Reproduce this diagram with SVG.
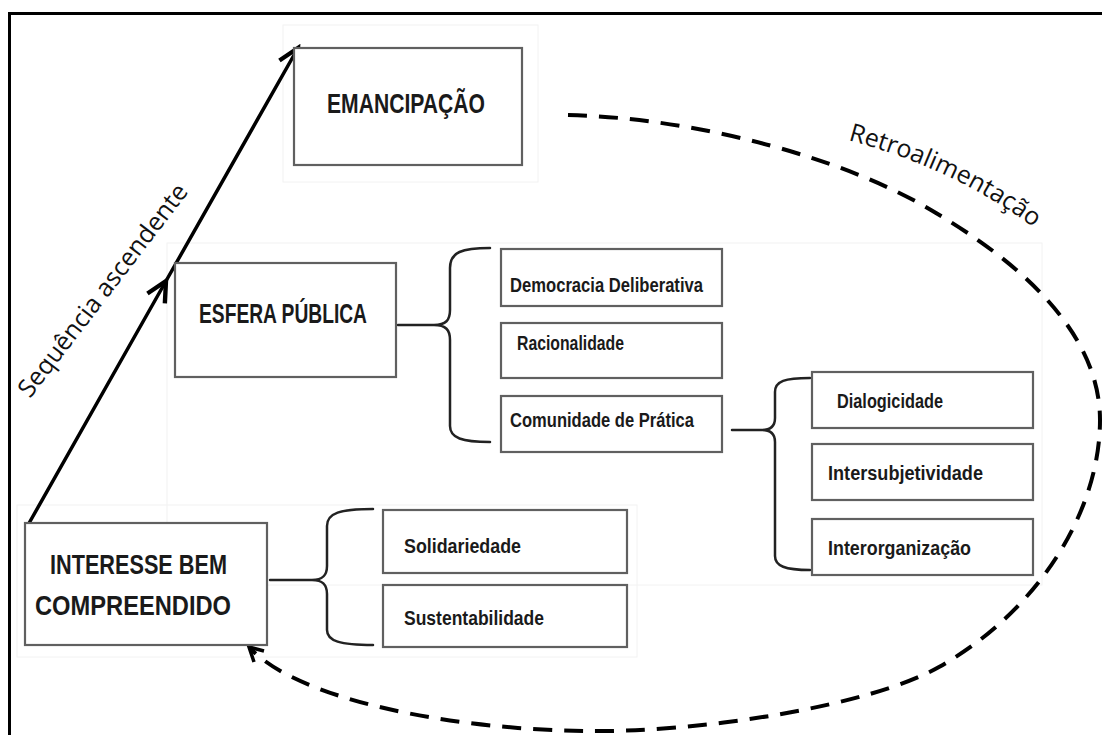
<svg xmlns="http://www.w3.org/2000/svg" width="1102" height="735" viewBox="0 0 1102 735">
  <style>
    .box { fill: #ffffff; stroke: #606060; stroke-width: 2.2; }
    .faint { fill: none; stroke: #f2f2f2; stroke-width: 1; }
    .big { font-family: "Liberation Sans Narrow", "Liberation Sans", Arial, sans-serif; font-weight: bold; font-size: 28px; fill: #1a1a1a; }
    .sm { font-family: "Liberation Sans Narrow", "Liberation Sans", Arial, sans-serif; font-weight: bold; font-size: 19.5px; fill: #1a1a1a; }
    .brace { fill: none; stroke: #222222; stroke-width: 2.5; stroke-linecap: round; }
    .arrow { fill: none; stroke: #000000; stroke-width: 3.5; }
    .dash { fill: none; stroke: #000000; stroke-width: 4; stroke-dasharray: 19 12; }
    .note { font-family: "Open Sans", "Liberation Sans", sans-serif; font-size: 25px; fill: #111111; }
  </style>
  <defs>
    <marker id="chev" markerUnits="userSpaceOnUse" markerWidth="30" markerHeight="30" refX="0" refY="0" viewBox="-20 -12 24 24" orient="auto">
      <path d="M -16,-8 L 0,0 L -16,8" fill="none" stroke="#000" stroke-width="3.5" stroke-linejoin="miter"/>
    </marker>
    <path id="retroPath" d="M 848,140 Q 960,170 1045,236"/>
  </defs>

  <rect width="1102" height="735" fill="#ffffff"/>
  <rect x="9.5" y="13.5" width="1100" height="730" fill="none" stroke="#000" stroke-width="3"/>

  <!-- faint image edges -->
  <rect class="faint" x="283" y="25" width="255" height="157"/>
  <rect class="faint" x="167" y="243" width="875" height="342"/>
  <rect class="faint" x="17" y="505" width="620" height="152"/>

  <g id="connectors">
    <path class="arrow" d="M 28,525 L 166,281 L 298,48" marker-mid="url(#chev)" marker-end="url(#chev)"/>
    <path class="dash" d="M 568,115 C 700,118 850,160 936,213 C 1015,260 1100,330 1100,420 C 1100,510 1040,610 939,667 C 870,706 700,733 583,731 C 450,729 300,700 251,649"/>
    <path d="M 264,651 L 249,647 L 254,662" fill="none" stroke="#000" stroke-width="3.5"/>
    <path class="brace" d="M 490,248 C 462,248 450,252 450,268 L 450,310 C 450,320 446,325 434,325 L 398,325 M 434,325 C 446,325 450,330 450,340 L 450,426 C 450,438 462,442 490,442"/>
    <path class="brace" d="M 810,378 C 785,378 775,381 775,392 L 775,418 C 775,426 771,430 762,430 L 732,430 M 762,430 C 771,430 775,434 775,442 L 775,556 C 775,566 785,570 810,570"/>
    <path class="brace" d="M 373,509 C 340,509 327,513 327,526 L 327,566 C 327,575 323,580 312,580 L 270,580 M 312,580 C 323,580 327,585 327,594 L 327,630 C 327,641 340,645 373,645"/>
    <text class="note" transform="translate(30,399) rotate(-52.5)">Sequência ascendente</text>
    <text class="note" font-size="24"><textPath href="#retroPath">Retroalimentação</textPath></text>
  </g>

  <g id="emancipacao">
    <rect class="box" x="294" y="48" width="228" height="117"/>
    <text class="big" x="327" y="113" textLength="158" lengthAdjust="spacingAndGlyphs">EMANCIPAÇÃO</text>
  </g>
  <g id="esfera">
    <rect class="box" x="175" y="263" width="221" height="114"/>
    <text class="big" x="199" y="323" textLength="168" lengthAdjust="spacingAndGlyphs">ESFERA PÚBLICA</text>
  </g>
  <g id="interesse">
    <rect class="box" x="25" y="523" width="242" height="122"/>
    <text class="big" x="50" y="574" font-size="29" textLength="177" lengthAdjust="spacingAndGlyphs">INTERESSE BEM</text>
    <text class="big" x="35" y="615" font-size="29" textLength="196" lengthAdjust="spacingAndGlyphs">COMPREENDIDO</text>
  </g>
  <g id="democracia">
    <rect class="box" x="501" y="249" width="221" height="57"/>
    <text class="sm" x="510" y="292" textLength="193" lengthAdjust="spacingAndGlyphs">Democracia Deliberativa</text>
  </g>
  <g id="racionalidade">
    <rect class="box" x="501" y="323" width="221" height="55"/>
    <text class="sm" x="517" y="350" textLength="107" lengthAdjust="spacingAndGlyphs">Racionalidade</text>
  </g>
  <g id="comunidade">
    <rect class="box" x="501" y="396" width="221" height="56"/>
    <text class="sm" x="510" y="427" textLength="184" lengthAdjust="spacingAndGlyphs">Comunidade de Prática</text>
  </g>
  <g id="dialogicidade">
    <rect class="box" x="812" y="372" width="221" height="56"/>
    <text class="sm" x="837" y="408" textLength="106" lengthAdjust="spacingAndGlyphs">Dialogicidade</text>
  </g>
  <g id="intersubjetividade">
    <rect class="box" x="812" y="444" width="221" height="56"/>
    <text class="sm" x="828" y="480" textLength="155" lengthAdjust="spacingAndGlyphs">Intersubjetividade</text>
  </g>
  <g id="interorganizacao">
    <rect class="box" x="812" y="519" width="221" height="56"/>
    <text class="sm" x="828" y="555" textLength="143" lengthAdjust="spacingAndGlyphs">Interorganização</text>
  </g>
  <g id="solidariedade">
    <rect class="box" x="383" y="510" width="244" height="63"/>
    <text class="sm" x="404" y="553" textLength="117" lengthAdjust="spacingAndGlyphs">Solidariedade</text>
  </g>
  <g id="sustentabilidade">
    <rect class="box" x="383" y="585" width="244" height="62"/>
    <text class="sm" x="404" y="625" textLength="140" lengthAdjust="spacingAndGlyphs">Sustentabilidade</text>
  </g>
</svg>
